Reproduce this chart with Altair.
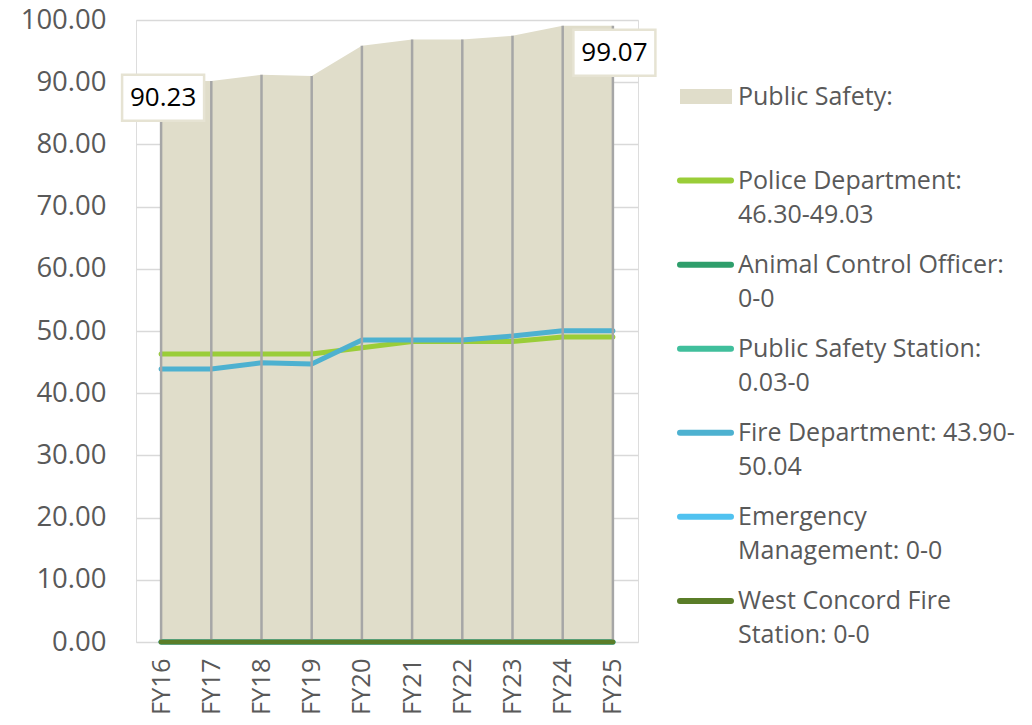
import altair as alt
import pandas as pd

# ---------------- data ----------------
years = ["FY16", "FY17", "FY18", "FY19", "FY20", "FY21", "FY22", "FY23", "FY24", "FY25"]
public_safety = [90.23, 90.20, 91.20, 91.00, 95.85, 96.85, 96.85, 97.45, 99.07, 99.07]
police = [46.30, 46.30, 46.30, 46.30, 47.30, 48.30, 48.30, 48.30, 49.03, 49.03]
animal_control = [0, 0, 0, 0, 0, 0, 0, 0, 0, 0]
ps_station = [0.03, 0, 0, 0, 0, 0, 0, 0, 0, 0]
fire = [43.90, 43.90, 44.90, 44.70, 48.55, 48.55, 48.55, 49.20, 50.04, 50.04]
emergency = [0, 0, 0, 0, 0, 0, 0, 0, 0, 0]
west_concord = [0, 0, 0, 0, 0, 0, 0, 0, 0, 0]

series_names = ["Police Department", "Animal Control Officer", "Public Safety Station",
                "Fire Department", "Emergency Management", "West Concord Fire Station"]
series_values = [police, animal_control, ps_station, fire, emergency, west_concord]
series_colors = ["#9ACD38", "#2E9E6B", "#40BF9C", "#4DB1D0", "#50C2F0", "#5A7D28"]

legend_line1 = ["Public Safety:", "Police Department:", "Animal Control Officer:",
                "Public Safety Station:", "Fire Department: 43.90-", "Emergency",
                "West Concord Fire"]
legend_line2 = ["", "46.30-49.03", "0-0", "0.03-0", "50.04", "Management: 0-0",
                "Station: 0-0"]

y_ticks = [0, 10, 20, 30, 40, 50, 60, 70, 80, 90, 100]

FONT = "Open Sans"
AREA = "#E0DDCA"
TXT = "#595959"

# ---------------- tables ----------------
df_area = pd.DataFrame({"year": years, "value": public_safety})
rows = []
for name, vals in zip(series_names, series_values):
    for y, v in zip(years, vals):
        rows.append({"year": y, "value": v, "series": name})
df_lines = pd.DataFrame(rows)
df_labels_first = df_area.iloc[[0]].assign(label=f"{public_safety[0]:.2f}")
df_labels_last = df_area.iloc[[-1]].assign(label=f"{public_safety[-1]:.2f}")

x_enc = alt.X("year:N", sort=years,
              scale=alt.Scale(type="point", padding=0.5),
              axis=alt.Axis(title=None, labelAngle=-90, labelFontSize=25.5, labelFont=FONT,
                            labelColor=TXT, ticks=False, tickSize=0, domain=False,
                            grid=False, labelPadding=16))
y_enc = alt.Y("value:Q", scale=alt.Scale(domain=[0, 100], nice=False, zero=True),
              axis=alt.Axis(title=None, values=y_ticks, format=".2f", labelFontSize=27.5,
                            labelFont=FONT, labelColor=TXT, ticks=False, tickSize=0,
                            domain=False, grid=True, gridColor="#D9D9D9", gridWidth=1.5,
                            labelPadding=30))
color_enc = alt.Color("series:N", scale=alt.Scale(domain=series_names, range=series_colors),
                      legend=None)

base_area = alt.Chart(df_area)
area = base_area.mark_area(color=AREA, opacity=1).encode(x=x_enc, y=y_enc)
drops = base_area.mark_rule(color="#A6A6A6", strokeWidth=2.5).encode(
    x=alt.X("year:N", sort=years), y="value:Q", y2=alt.datum(0))

def line_layer(name):
    return alt.Chart(df_lines).transform_filter(alt.datum.series == name).mark_line(
        strokeWidth=5, strokeCap="round", strokeJoin="round").encode(
        x=alt.X("year:N", sort=years), y="value:Q", color=color_enc)

zero_lines = [line_layer(n) for n in ["Animal Control Officer", "Public Safety Station",
                                      "Emergency Management"]]
police_line = line_layer("Police Department")
fire_line = line_layer("Fire Department")
wc_line = line_layer("West Concord Fire Station")

box_path = "M-1,-0.56L1,-0.56L1,0.56L-1,0.56Z"

def label_layers(df, dx, dy):
    b = alt.Chart(df)
    box = b.mark_point(shape=box_path, size=82 * 82, filled=True, fill="white",
                       stroke="#E6E3D3", strokeWidth=2.5, opacity=1,
                       xOffset=dx, yOffset=dy).encode(
        x=alt.X("year:N", sort=years), y="value:Q")
    txt = b.mark_text(font=FONT, fontSize=26, color="black", dx=dx, dy=dy,
                      baseline="middle", align="center").encode(
        x=alt.X("year:N", sort=years), y="value:Q", text="label:N")
    return [box, txt]

main = alt.layer(area, *zero_lines, police_line, fire_line, drops, wc_line,
                 *label_layers(df_labels_first, 2, 17),
                 *label_layers(df_labels_last, 1.5, 27))

# ---------------- legend ----------------
df_leg = pd.DataFrame({"row": list(range(len(legend_line1))),
                       "l1": legend_line1, "l2": legend_line2})
df_leg_lines = pd.DataFrame({"row": list(range(1, 7)), "series": series_names})
df_leg_area = pd.DataFrame({"row": [0]})
leg_y = alt.Y("row:O", scale=alt.Scale(type="point", domain=list(range(7)),
                                       range=[76.5, 580.9], padding=0), axis=None)

leg_rect = alt.Chart(df_leg_area).mark_rule(color=AREA, strokeWidth=15, strokeCap="butt").encode(
    x=alt.value(544), x2=alt.value(596), y=leg_y)
leg_lines = alt.Chart(df_leg_lines).mark_rule(strokeWidth=6, strokeCap="round").encode(
    x=alt.value(544), x2=alt.value(595), y=leg_y, color=color_enc)
leg_t1 = alt.Chart(df_leg).mark_text(font=FONT, fontSize=25, color=TXT, align="left",
                                     baseline="middle").encode(
    x=alt.value(602), y=leg_y, text="l1:N")
leg_t2 = alt.Chart(df_leg).mark_text(font=FONT, fontSize=25, color=TXT, align="left",
                                     baseline="middle", dy=34).encode(
    x=alt.value(602), y=leg_y, text="l2:N")

legend = alt.layer(leg_rect, leg_lines, leg_t1, leg_t2)

chart = alt.layer(main, legend).resolve_scale(y="independent").properties(
    width=502, height=622,
    padding={"left": 128, "top": 12, "right": 386, "bottom": 75},
    autosize="none",
).configure_view(stroke=None).configure(background="white")

chart.save("out.html", embed_options={"renderer": "svg", "actions": False})
